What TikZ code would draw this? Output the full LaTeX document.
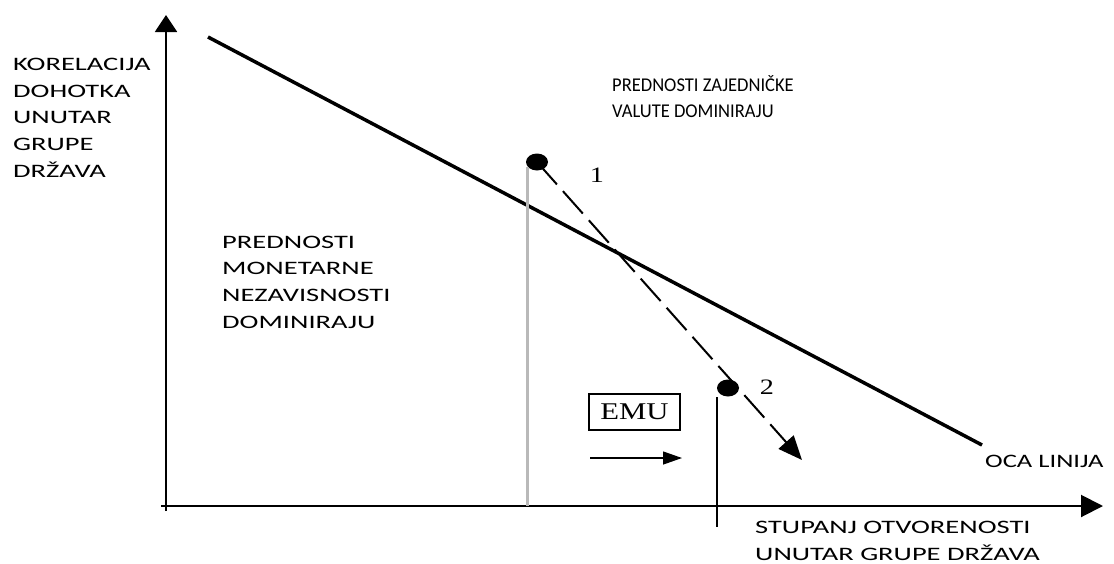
\documentclass[tikz,border=0pt]{standalone}
\usepackage{fontspec}
\setmainfont{Carlito}[FakeStretch=1.5]
\newfontfamily\plainfont{Carlito}[FakeStretch=0.95]
\newfontfamily\ocafont{Carlito}[FakeStretch=1.4]
\newfontfamily\numfont{Liberation Serif}[FakeStretch=1.28]
\usetikzlibrary{arrows.meta, shapes.geometric}

\begin{document}
\begin{tikzpicture}[x=1pt, y=-1pt,
		lbl/.style={anchor=base west, inner sep=0pt, align=left,
			font=\fontsize{19}{26.6}\selectfont},
		num/.style={inner sep=0pt, font=\numfont\fontsize{22}{24}\selectfont},
		dot/.style={fill=black, ellipse, minimum width=22pt, minimum height=17pt, inner sep=0pt}]
	\useasboundingbox (0,0) rectangle (1114,563);
	
	% axes
	\coordinate (o) at (166,506);
	\coordinate (ytop) at (166,15);
	\coordinate (xend) at (1103,506);
	\draw[line width=2pt, -{Triangle[length=17pt, width=22pt]}] (166,511) -- (ytop);
	\draw[line width=2pt, -{Triangle[length=22pt, width=22pt]}] (161,506) -- (xend);
	
	% OCA line
	\coordinate (ocaA) at (208,37);
	\coordinate (ocaB) at (982,445);
	\draw[line width=3.5pt] (ocaA) -- (ocaB);
	
	% points
	\node[dot] (p1) at (537,162) {};
	\node[dot] (p2) at (728,388) {};
	\coordinate (p1foot) at (527,506);
	\coordinate (p2foot) at (717,527);
	\draw[line width=3pt, gray!55] (527,167) -- (p1foot);
	\draw[line width=2pt] (717,397) -- (p2foot);
	
	\coordinate (tip) at (802,460);
	\draw[line width=2pt, dash pattern=on 30pt off 9pt,
		-{Triangle[length=24pt, width=20pt]}] (p1.center) -- (tip);
	
	\node[num] (n1) at (597,175) {1};
	\node[num] (n2) at (767,387) {2};
	
	% EMU
	\node[draw, line width=1.2pt, minimum width=91pt, minimum height=36pt, inner sep=0pt,
		font=\numfont\fontsize{24}{26}\selectfont] (emu) at (634.5,412) {EMU};
	\coordinate (emuA) at (590,458);
	\coordinate (emuB) at (682,458);
	\draw[line width=1.3pt, -{Triangle[length=19pt, width=13pt]}] (emuA) -- (emuB);
	
	% labels
	\node[lbl] (ylab) at (13,177) {KORELACIJA\\DOHOTKA\\UNUTAR\\GRUPE\\DRŽAVA};
	\node[lbl, font=\plainfont\fontsize{19.5}{26}\selectfont] (valuta) at (612,117)
		{PREDNOSTI ZAJEDNIČKE\\VALUTE DOMINIRAJU};
	\node[lbl] (nezav) at (222,328) {PREDNOSTI\\MONETARNE\\NEZAVISNOSTI\\DOMINIRAJU};
	\node[lbl, font=\ocafont\fontsize{19}{26}\selectfont] (oca) at (985,467) {OCA LINIJA};
	\node[lbl] (xlab) at (755,560) {STUPANJ OTVORENOSTI\\UNUTAR GRUPE DRŽAVA};
\end{tikzpicture}
\end{document}
